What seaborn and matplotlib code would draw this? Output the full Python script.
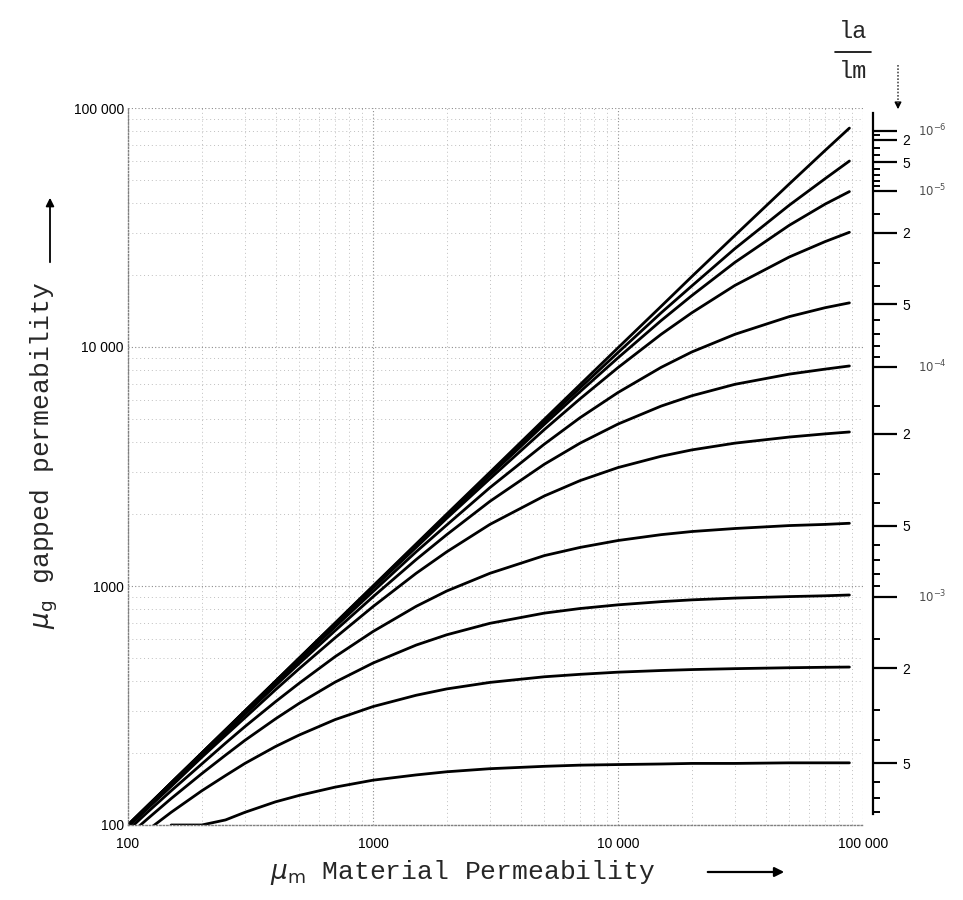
import numpy as np
import pandas as pd
import seaborn as sns
import matplotlib.pyplot as plt
from matplotlib.lines import Line2D

# values (mu_m along x, one mu_g list per air-gap ratio)
MU_M = [100, 120, 150, 200, 250, 300, 400, 500, 700, 1000, 1500, 2000, 3000, 5000, 7000,
        10000, 15000, 20000, 30000, 50000, 70000, 88000]

G_1 = [100, 120, 150, 200, 250, 300, 400, 500, 700, 1000, 1500, 2000, 2990, 4980, 6960, 9920, 14800, 19700, 29300, 48100, 66400, 82400]
G_2 = [100, 120, 150, 200, 250, 300, 399, 499, 697, 995, 1490, 1980, 2950, 4870, 6740, 9480, 13900, 18000, 25800, 39200, 50600, 60000]
G_3 = [100, 120, 150, 200, 249, 299, 398, 497, 695, 989, 1480, 1960, 2900, 4740, 6500, 9010, 12900, 16400, 22600, 32300, 39600, 44700]
G_4 = [100, 120, 150, 199, 249, 298, 397, 495, 689, 979, 1450, 1920, 2810, 4510, 6070, 8200, 11300, 13900, 18100, 23800, 27600, 30200]
G_5 = [99, 119, 149, 198, 247, 295, 391, 487, 674, 948, 1390, 1800, 2580, 3920, 5060, 6450, 8220, 9530, 11300, 13400, 14600, 15300]
G_6 = [99, 118, 148, 196, 243, 290, 383, 474, 650, 901, 1290, 1640, 2260, 3230, 3960, 4760, 5660, 6250, 6980, 7700, 8080, 8330]
G_7 = [98, 117, 145, 192, 237, 281, 368, 451, 607, 820, 1130, 1390, 1810, 2380, 2760, 3130, 3490, 3710, 3960, 4200, 4330, 4410]
G_8 = [95, 113, 139, 180, 220, 258, 328, 392, 506, 645, 822, 953, 1130, 1340, 1450, 1550, 1640, 1690, 1740, 1790, 1810, 1830]
G_9 = [90, 106, 129, 164, 196, 226, 278, 323, 396, 476, 566, 625, 698, 770, 805, 834, 860, 875, 890, 903, 910, 917]
G_10 = [82, 95, 113, 139, 161, 181, 213, 238, 276, 313, 349, 371, 395, 417, 427, 436, 443, 447, 451, 455, 457, 458]
G_11 = [np.nan, np.nan, 100, 100, 105, 113, 125, 133, 144, 154, 162, 167, 172, 176, 178, 179, 180, 181, 181, 182, 182, 182]

CURVES = {'1e-6': G_1, '5e-6': G_2, '1e-5': G_3, '2e-5': G_4, '5e-5': G_5, '1e-4': G_6,
          '2e-4': G_7, '5e-4': G_8, '1e-3': G_9, '2e-3': G_10, '5e-3': G_11}

# right hand la/lm scale
LA_MAJOR = [1e-6, 2e-6, 5e-6, 1e-5, 2e-5, 5e-5, 1e-4, 2e-4, 5e-4, 1e-3, 2e-3, 5e-3]
LA_MAJOR_LABELS = ['', '2', '5', '', '2', '5', '', '2', '5', '', '2', '5']
LA_DECADES = [1e-6, 1e-5, 1e-4, 1e-3]
LA_DECADE_LABELS = [r'$10^{-6}$', r'$10^{-5}$', r'$10^{-4}$', r'$10^{-3}$']

X_TICKS = [100, 1000, 10000, 100000]
X_LABELS = ['100', '1000', '10 000', '100 000']
Y_TICKS = [100, 1000, 10000, 100000]
Y_LABELS = ['100', '1000', '10 000', '100 000']


def la_to_mu(r):
    # where a given la/lm sits on the mu_g scale at the right edge
    return 1.0 / (np.asarray(r) / 0.91 + 1.0 / 88000)


rows = []
for name, vals in CURVES.items():
    for x, y in zip(MU_M, vals):
        rows.append((name, x, y))
df = pd.DataFrame(rows, columns=['la_lm', 'mu_m', 'mu_g']).dropna()

sns.set_theme(style='white')
plt.rcParams['font.family'] = ['Liberation Sans', 'DejaVu Sans']

fig = plt.figure(figsize=(9.63, 9.0), dpi=100)
ax = fig.add_axes([128 / 963, 75 / 900, 735 / 963, 717 / 900])
ax.set_xscale('log')
ax.set_yscale('log')
ax.set_xlim(100, 1e5)
ax.set_ylim(100, 1e5)

sns.lineplot(data=df, x='mu_m', y='mu_g', hue='la_lm', hue_order=list(CURVES),
             palette=['black'] * len(CURVES), estimator=None, sort=False,
             legend=False, lw=2.0, ax=ax)

# graph paper look
ax.set_axisbelow(True)
ax.grid(True, which='major', color='0.55', ls=(0, (1, 2)), lw=0.8)
ax.grid(True, which='minor', color='0.75', ls=(0, (1, 3)), lw=0.7)
for s in ['top', 'right']:
    ax.spines[s].set_visible(False)
for s in ['left', 'bottom']:
    ax.spines[s].set(linestyle=(0, (1, 1.5)), color='0.5', lw=1.0)

ax.set_xticks(X_TICKS, labels=X_LABELS)
ax.set_yticks(Y_TICKS, labels=Y_LABELS)
ax.xaxis.set_minor_formatter(plt.NullFormatter())
ax.yaxis.set_minor_formatter(plt.NullFormatter())
ax.tick_params(axis='both', which='both', length=0, labelsize=10, colors='black')
ax.tick_params(axis='x', pad=9)
ax.tick_params(axis='y', pad=3)

ax.set_xlabel(r'$\mu_\mathrm{m}$ Material Permeability', family='Liberation Mono', fontsize=19)
ax.xaxis.set_label_coords(0.455, -0.046)
ax.set_ylabel(r'$\mu_\mathrm{g}$ gapped permeability', family='Liberation Mono', fontsize=19)
ax.yaxis.set_label_coords(-0.0925, 0.515)

# la/lm axis on the right
ax2 = ax.twinx()
ax2.set_yscale('log')
ax2.set_ylim(ax.get_ylim())
ax2.grid(False)
for s in ['top', 'left', 'bottom']:
    ax2.spines[s].set_visible(False)
ax2.spines['right'].set_position(('axes', 1.0136))
ax2.spines['right'].set(color='black', lw=1.6)
ax2.spines['right'].set_bounds(la_to_mu(8.2e-3), 95000)

minor = [m * d for d in LA_DECADES for m in (1.5, 3, 4, 6, 7, 8, 9)]
minor = [v for v in minor if v < 8.5e-3]
ax2.set_yticks(la_to_mu(LA_MAJOR), labels=LA_MAJOR_LABELS)
ax2.set_yticks(la_to_mu(minor), minor=True)
ax2.yaxis.set_minor_formatter(plt.NullFormatter())
ax2.tick_params(axis='y', which='major', length=17, width=1.6, pad=4, labelsize=10, colors='black')
ax2.tick_params(axis='y', which='minor', length=5, width=1.4, colors='black')
for d, lab in zip(LA_DECADES, LA_DECADE_LABELS):
    ax2.text(1.075, la_to_mu(d), lab, transform=ax2.get_yaxis_transform(),
             ha='left', va='center', fontsize=8.5, color='0.3')

# la / lm fraction and arrows
fig.text(853 / 963, 1 - 32 / 900, 'la', ha='center', va='center', family='Liberation Mono', fontsize=17)
fig.add_artist(Line2D([835 / 963, 871 / 963], [1 - 52 / 900] * 2, transform=fig.transFigure, color='black', lw=1.2))
fig.text(853 / 963, 1 - 72 / 900, 'lm', ha='center', va='center', family='Liberation Mono', fontsize=17)

fig.add_artist(Line2D([898 / 963] * 2, [1 - 65 / 900, 1 - 104 / 900], transform=fig.transFigure,
                      color='0.3', lw=1.2, ls=(0, (1, 1))))
ax.annotate('', xy=(898 / 963, 1 - 112 / 900), xytext=(898 / 963, 1 - 103 / 900),
            xycoords='figure fraction', textcoords='figure fraction', annotation_clip=False,
            arrowprops=dict(arrowstyle='-|>', color='black', lw=1.0, mutation_scale=10))
ax.annotate('', xy=(50 / 963, 1 - 195 / 900), xytext=(50 / 963, 1 - 265 / 900),
            xycoords='figure fraction', textcoords='figure fraction', annotation_clip=False,
            arrowprops=dict(arrowstyle='-|>', color='black', lw=1.3, mutation_scale=12))
ax.annotate('', xy=(787 / 963, 1 - 872 / 900), xytext=(705 / 963, 1 - 872 / 900),
            xycoords='figure fraction', textcoords='figure fraction', annotation_clip=False,
            arrowprops=dict(arrowstyle='-|>', color='black', lw=1.6, mutation_scale=14))

fig.savefig('out.png', dpi=100)
